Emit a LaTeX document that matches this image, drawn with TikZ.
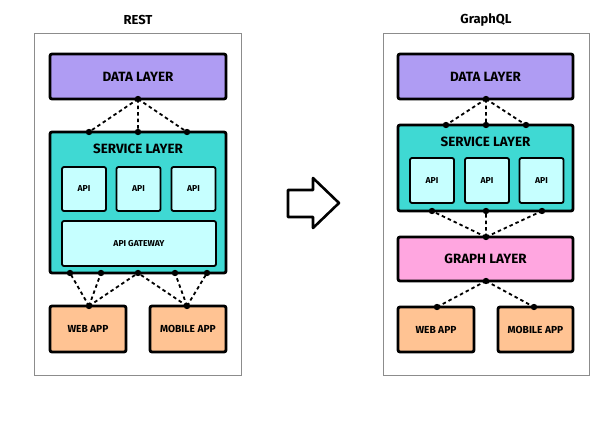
\documentclass[tikz,border=0pt]{standalone}
\usepackage{fontspec}
\setmainfont{Fira Sans}
\definecolor{datac}{HTML}{AF9CF3}
\definecolor{svcc}{HTML}{3FD9D3}
\definecolor{apic}{HTML}{C6FFFF}
\definecolor{graphc}{HTML}{FFA6E0}
\definecolor{appc}{HTML}{FFC393}
\begin{document}
\begin{tikzpicture}[x=1pt,y=-1pt,
  panel/.style={draw=black!45,line width=0.8pt,fill=white},
  layerbox/.style={draw=black,line width=2.8pt,rounded corners=2pt,inner sep=0pt},
  big/.style={font=\fontsize{13.4}{15}\selectfont\bfseries},
  small/.style={font=\fontsize{8.6}{10}\selectfont\bfseries},
  mid/.style={font=\fontsize{10.2}{12}\selectfont\bfseries},
  ttl/.style={font=\fontsize{13}{15}\selectfont\bfseries},
  apibox/.style={layerbox,line width=1.8pt,fill=apic,minimum width=44pt,minimum height=44pt,small},
  conn/.style={line width=1.8pt,dash pattern=on 3.5pt off 3pt},
  dotc/.style={fill=black}
]
\useasboundingbox (0,0) rectangle (608,428);
% panels
\node[panel,minimum width=207pt,minimum height=342pt,inner sep=0pt] (panelA) at (137.5,204) {};
\node[panel,minimum width=206pt,minimum height=342pt,inner sep=0pt] (panelB) at (486,204) {};
\node[ttl] (titleA) at (138,20) {REST};
\node[ttl] (titleB) at (486,20) {GraphQL};
% REST
\node[layerbox,fill=datac,minimum width=176pt,minimum height=45pt,big] (dataA) at (138,76.5) {DATA LAYER};
\node[layerbox,fill=svcc,minimum width=176pt,minimum height=141pt] (svcA) at (138,202.5) {};
\node[big] (svcAlab) at (138,149) {SERVICE LAYER};
\node[apibox] (apiA1) at (84,189) {API};
\node[apibox] (apiA2) at (138.5,189) {API};
\node[apibox] (apiA3) at (193.5,189) {API};
\node[layerbox,line width=1.8pt,fill=apic,minimum width=154pt,minimum height=45pt,small] (gw) at (139,243.5) {API GATEWAY};
\node[layerbox,fill=appc,minimum width=76pt,minimum height=46pt,mid] (webA) at (88,329) {WEB APP};
\node[layerbox,fill=appc,minimum width=76pt,minimum height=46pt,mid] (mobA) at (188,329) {MOBILE APP};
% REST dots
\coordinate (dA0) at (138,99);
\coordinate (sA1) at (89,132);
\coordinate (sA2) at (138,132);
\coordinate (sA3) at (187,132);
\coordinate (bA1) at (70,273);
\coordinate (bA2) at (101,273);
\coordinate (bA3) at (138,273);
\coordinate (bA4) at (175,273);
\coordinate (bA5) at (207,273);
\coordinate (wA) at (89,306);
\coordinate (mA) at (187,306);
\draw[conn] (dA0) -- (sA1) (dA0) -- (sA2) (dA0) -- (sA3);
\draw[conn] (wA) -- (bA1) (wA) -- (bA2) (wA) -- (bA3);
\draw[conn] (mA) -- (bA3) (mA) -- (bA4) (mA) -- (bA5);
\foreach \c in {dA0,sA1,sA2,sA3,bA1,bA2,bA3,bA4,bA5,wA,mA} \fill[dotc] (\c) circle (3.2pt);
% GraphQL
\node[layerbox,fill=datac,minimum width=175pt,minimum height=45pt,big] (dataB) at (485.5,76.5) {DATA LAYER};
\node[layerbox,fill=svcc,minimum width=175pt,minimum height=86pt] (svcB) at (485.5,168) {};
\node[big] (svcBlab) at (485.5,142) {SERVICE LAYER};
\node[apibox,minimum height=45pt] (apiB1) at (432,180.5) {API};
\node[apibox,minimum height=45pt] (apiB2) at (487,180.5) {API};
\node[apibox,minimum height=45pt] (apiB3) at (541.5,180.5) {API};
\node[layerbox,fill=graphc,minimum width=175pt,minimum height=44pt,big] (graph) at (485.5,259) {GRAPH LAYER};
\node[layerbox,fill=appc,minimum width=76pt,minimum height=45pt,mid] (webB) at (436,329.5) {WEB APP};
\node[layerbox,fill=appc,minimum width=75pt,minimum height=45pt,mid] (mobB) at (535.5,329.5) {MOBILE APP};
\coordinate (dB0) at (486,99);
\coordinate (sB1) at (446,125);
\coordinate (sB2) at (486,125);
\coordinate (sB3) at (526,125);
\coordinate (bB1) at (432,211);
\coordinate (bB2) at (486,211);
\coordinate (bB3) at (542,211);
\coordinate (gT) at (486,237);
\coordinate (gB) at (486,281);
\coordinate (wB) at (437,307);
\coordinate (mB) at (534,307);
\draw[conn] (dB0) -- (sB1) (dB0) -- (sB2) (dB0) -- (sB3);
\draw[conn] (gT) -- (bB1) (gT) -- (bB2) (gT) -- (bB3);
\draw[conn] (gB) -- (wB) (gB) -- (mB);
\foreach \c in {dB0,sB1,sB2,sB3,bB1,bB2,bB3,gT,gB,wB,mB} \fill[dotc] (\c) circle (3.2pt);
% arrow
\draw[line width=2.6pt,line join=round] (288,190) -- (313,190) -- (313,178) -- (339,203) -- (313,228) -- (313,217) -- (288,217) -- cycle;
\end{tikzpicture}
\end{document}
